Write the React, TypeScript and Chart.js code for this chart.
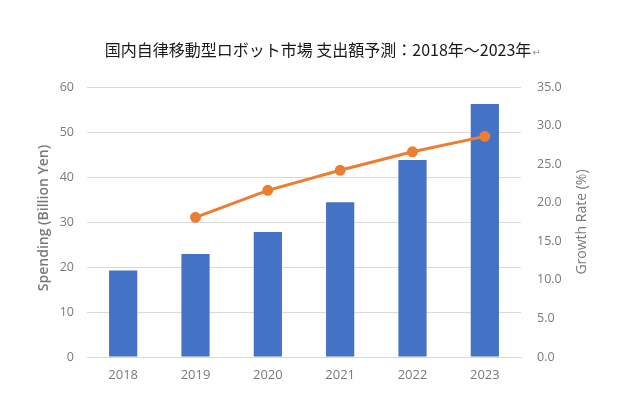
import React, { useEffect, useRef } from 'react';
import { Chart, registerables } from 'chart.js';

Chart.register(...registerables);

const years = ['2018', '2019', '2020', '2021', '2022', '2023'];
const spending = [19.2, 22.9, 27.8, 34.4, 43.8, 56.2];
const growthRate = [null, 18.1, 21.6, 24.2, 26.6, 28.6];

const titleText = '国内自律移動型ロボット市場 支出額予測：2018年～2023年';
const leftAxisTitle = 'Spending (Billion Yen)';
const rightAxisTitle = 'Growth Rate (%)';

const tickColor = '#7a7a7a';
const gridColor = '#d9d9d9';
const tickFont = { family: '"Open Sans", "Noto Sans", sans-serif', size: 12.5 };

// draws the title and both axis titles (both read bottom-to-top like Excel)
const labelsPlugin = {
  id: 'labels',
  afterDraw(chart: Chart) {
    const { ctx, chartArea } = chart;
    const midY = (chartArea.top + chartArea.bottom) / 2;
    ctx.save();
    ctx.fillStyle = '#1a1a1a';
    ctx.font = '16px "Noto Sans CJK JP", sans-serif';
    ctx.textBaseline = 'middle';
    const w = ctx.measureText(titleText).width;
    const x0 = chart.width / 2 - (w + 8) / 2;
    ctx.textAlign = 'left';
    ctx.fillText(titleText, x0, 50);
    ctx.fillStyle = '#9a9a9a';
    ctx.font = '10px "DejaVu Sans", sans-serif';
    ctx.fillText('↵', x0 + w + 1, 53);

    ctx.fillStyle = tickColor;
    ctx.font = '600 14px "Open Sans", "Noto Sans", sans-serif';
    ctx.textAlign = 'center';
    ctx.translate(44, midY - 4);
    ctx.rotate(-Math.PI / 2);
    ctx.fillText(leftAxisTitle, 0, 0);
    ctx.restore();

    ctx.save();
    ctx.fillStyle = tickColor;
    ctx.font = '14px "Open Sans", "Noto Sans", sans-serif';
    ctx.textAlign = 'center';
    ctx.textBaseline = 'middle';
    ctx.translate(582, midY);
    ctx.rotate(-Math.PI / 2);
    ctx.fillText(rightAxisTitle, 0, 0);
    ctx.restore();
  },
};

const App: React.FC = () => {
  const canvasRef = useRef<HTMLCanvasElement | null>(null);

  useEffect(() => {
    if (!canvasRef.current) return;
    const chart = new Chart(canvasRef.current, {
      type: 'bar',
      data: {
        labels: years,
        datasets: [
          {
            type: 'line',
            label: 'Growth Rate',
            data: growthRate,
            yAxisID: 'y1',
            borderColor: '#ED7D31',
            backgroundColor: '#ED7D31',
            borderWidth: 3,
            pointRadius: 4,
            pointHoverRadius: 4,
            order: 0,
          },
          {
            type: 'bar',
            label: 'Spending',
            data: spending,
            yAxisID: 'y',
            backgroundColor: '#4472C4',
            categoryPercentage: 1,
            barPercentage: 0.39,
            order: 1,
          },
        ],
      },
      options: {
        animation: false,
        responsive: true,
        maintainAspectRatio: false,
        layout: { padding: { top: 87, left: 0, right: 0, bottom: 0 } },
        plugins: {
          legend: { display: false },
          title: { display: false },
          tooltip: { enabled: false },
        },
        scales: {
          x: {
            grid: { display: false, drawTicks: false },
            border: { display: true, color: gridColor, width: 1 },
            ticks: { color: tickColor, font: { ...tickFont, size: 13 }, padding: 10 },
            afterFit: (scale: any) => {
              scale.height = 51;
            },
          },
          y: {
            position: 'left',
            min: 0,
            max: 60,
            ticks: { stepSize: 10, color: tickColor, font: tickFont, padding: 13 },
            grid: { color: gridColor, drawTicks: false },
            border: { display: false },
            afterFit: (scale: any) => {
              scale.width = 87;
            },
          },
          y1: {
            position: 'right',
            min: 0,
            max: 35,
            ticks: {
              stepSize: 5,
              color: tickColor,
              font: tickFont,
              padding: 16,
              callback: (v: any) => Number(v).toFixed(1),
            },
            grid: { display: false, drawTicks: false },
            border: { display: false },
            afterFit: (scale: any) => {
              scale.width = 123;
            },
          },
        },
      },
      plugins: [labelsPlugin],
    });
    return () => chart.destroy();
  }, []);

  return (
    <div style={{ position: 'absolute', left: 0, top: 0, width: 644, height: 408, background: '#fff' }}>
      <canvas ref={canvasRef} />
    </div>
  );
};

export default App;
